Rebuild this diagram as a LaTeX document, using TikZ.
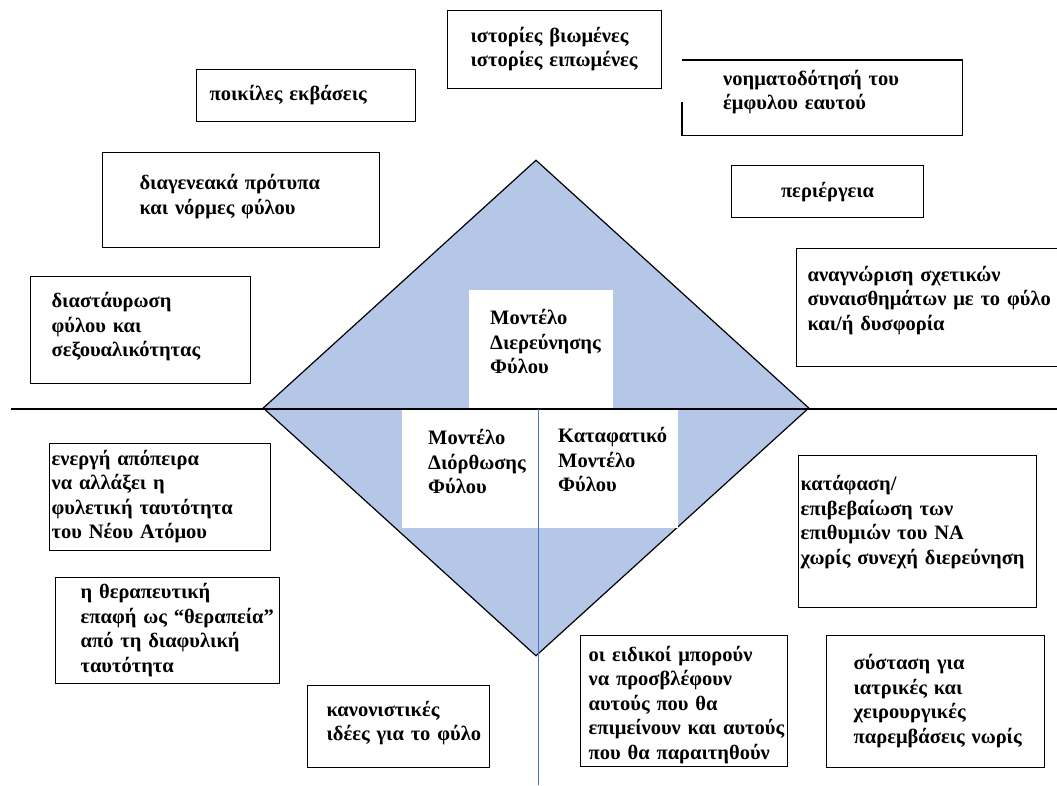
\documentclass[tikz,border=0pt]{standalone}
\usepackage{fontspec}
\setmainfont{Liberation Serif}
\usepackage{tikz}
\usetikzlibrary{shapes.geometric, positioning}
\definecolor{mfill}{HTML}{B4C7E7}
\definecolor{mblue}{HTML}{4472C4}
% lines of a box, kept unbroken; optional lift of the text
\newcommand{\boxlines}[2][0pt]{\raisebox{#1}[\height][\depth]{\begin{tabular}{@{}l@{}}#2\end{tabular}}}
\tikzset{
  tbox/.style={draw, line width=1.2pt, fill=white, anchor=north west,
               align=left, inner xsep=0pt, inner ysep=2pt},
  mbox/.style={fill=white, anchor=north west, align=left,
               inner xsep=0pt, inner ysep=2pt},
  rhomb/.style={diamond, draw, line width=1.2pt, fill=mfill, inner sep=0pt,
                minimum width=546pt, minimum height=496pt},
  hline/.style={line width=1.3pt},
  vline/.style={line width=1.1pt, mblue},
}

\begin{document}
\begin{tikzpicture}[x=1pt, y=-1pt,
  every node/.style={font=\fontsize{20.5}{24.5}\selectfont\bfseries}]
  \path[use as bounding box, fill=white] (0,0) rectangle (1057,785);

  % central model
  \node[rhomb] (core) at (536,408) {};
  \node[mbox, minimum width=144pt, minimum height=118pt, text width=102pt] (explore) at (469,290) {\boxlines[5pt]{Μοντέλο\\Διερεύνησης\\Φύλου}};
  \node[mbox, minimum width=136pt, minimum height=120pt, text width=84pt] (correct) at (402,408) {\boxlines[4pt]{Μοντέλο\\Διόρθωσης\\Φύλου}};
  \node[mbox, minimum width=139pt, minimum height=120pt, text width=101pt] (affirm) at (539,408) {\boxlines[6pt]{Καταφατικό\\Μοντέλο\\Φύλου}};

  \coordinate (hl) at (11,409);
  \coordinate (hr) at (1057,409);
  \coordinate (vt) at (538.5,409);
  \coordinate (vb) at (538.5,785);
  \draw[hline] (hl) -- (hr);
  \draw[vline] (vt) -- (vb);

  % upper half
  \node[tbox, minimum width=214pt, minimum height=78pt, text width=168pt] (lived) at (447,10) {\boxlines{ιστορίες βιωμένες\\ιστορίες ειπωμένες}};
  \node[tbox, minimum width=219pt, minimum height=52pt, text width=193pt] (outcome) at (196,69) {\boxlines{ποικίλες εκβάσεις}};
  \node[tbox, minimum width=277pt, minimum height=95pt, text width=203pt] (norms) at (102,152) {\boxlines[3pt]{διαγενεακά πρότυπα\\και νόρμες φύλου}};
  \node[tbox, minimum width=220pt, minimum height=107pt, text width=178pt] (cross) at (30,276) {\boxlines[3pt]{διαστάυρωση\\φύλου και\\σεξουαλικότητας}};
  \node[mbox, minimum width=280pt, minimum height=75pt, text width=198pt] (meaning) at (682,60) {\boxlines[5pt]{νοηματοδότησή του\\έμφυλου εαυτού}};
  \draw[line width=1.2pt] (meaning.south west) ++(0,-33) -- (meaning.south west)
    -- (meaning.south east) -- (meaning.north east) -- (meaning.north west);
  \node[tbox, minimum width=192pt, minimum height=52pt, align=center] (curious) at (731,165) {περιέργεια};
  \node[tbox, minimum width=279pt, minimum height=118pt, text width=257pt] (feelings) at (796,248) {\boxlines[7pt]{αναγνώριση σχετικών\\συναισθημάτων με το φύλο\\και/ή δυσφορία}};

  % lower half
  \node[tbox, minimum width=221pt, minimum height=107pt, text width=217pt] (attempt) at (49,443) {\boxlines{ενεργή απόπειρα\\να αλλάξει η\\φυλετική ταυτότητα\\του Νέου Ατόμου}};
  \node[tbox, minimum width=224pt, minimum height=106pt, text width=174pt] (therapy) at (55,577) {\boxlines{η θεραπευτική\\επαφή ως “θεραπεία”\\από τη διαφυλική\\ταυτότητα}};
  \node[tbox, minimum width=182pt, minimum height=82pt, text width=144pt] (ideas) at (307,685) {\boxlines[3pt]{κανονιστικές\\ιδέες για το φύλο}};
  \node[tbox, minimum width=238pt, minimum height=152pt, text width=234pt] (confirm) at (798,455) {\boxlines[9pt]{κατάφαση/\\επιβεβαίωση των\\επιθυμιών του ΝΑ\\χωρίς συνεχή διερεύνηση}};
  \node[tbox, minimum width=207pt, minimum height=131pt, text width=191pt] (predict) at (580,635) {\boxlines[-4pt]{οι ειδικοί μπορούν\\να προσβλέφουν\\αυτούς που θα\\επιμείνουν και αυτούς\\που θα παραιτηθούν}};
  \node[tbox, minimum width=218pt, minimum height=132pt, text width=164pt] (medical) at (826,635) {\boxlines{σύσταση για\\ιατρικές και\\χειρουργικές\\παρεμβάσεις νωρίς}};
\end{tikzpicture}
\end{document}
